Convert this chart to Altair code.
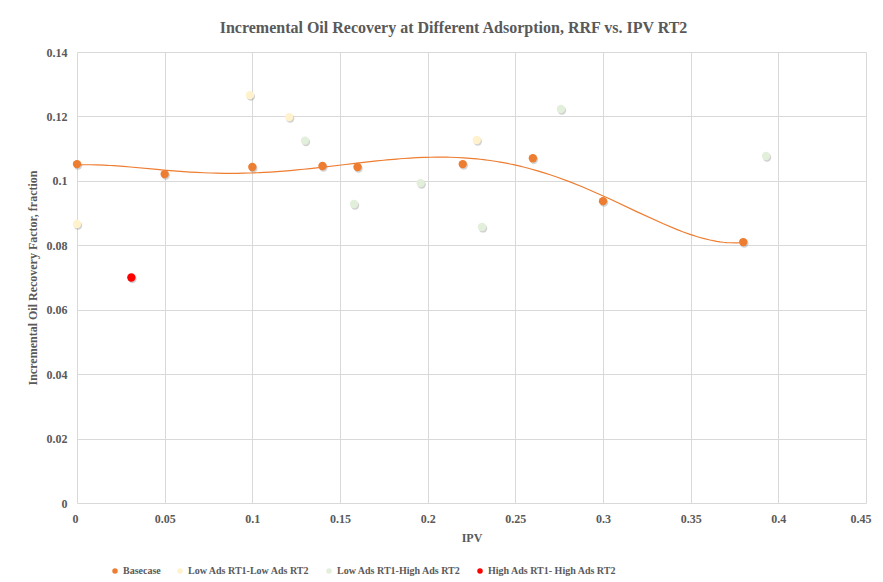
import altair as alt
import pandas as pd

series_names = ["Basecase", "Low Ads RT1-Low Ads RT2", "Low Ads RT1-High Ads RT2", "High Ads RT1- High Ads RT2"]
series_colors = ["#ED7D31", "#FFF2CC", "#E2EFDA", "#FF0000"]

base_ipv = [0.0, 0.05, 0.10, 0.14, 0.16, 0.22, 0.26, 0.30, 0.38]
base_rf = [0.1052, 0.1021, 0.1043, 0.1046, 0.1043, 0.1052, 0.1070, 0.0937, 0.0810]

lowlow_ipv = [0.0, 0.0986, 0.121, 0.228]
lowlow_rf = [0.0866, 0.1266, 0.1198, 0.1127]

lowhigh_ipv = [0.130, 0.158, 0.196, 0.231, 0.276, 0.393]
lowhigh_rf = [0.1125, 0.0928, 0.0993, 0.0857, 0.1223, 0.1077]

high_ipv = [0.031]
high_rf = [0.0700]

rows = []
for name, xs, ys in [
    (series_names[0], base_ipv, base_rf),
    (series_names[1], lowlow_ipv, lowlow_rf),
    (series_names[2], lowhigh_ipv, lowhigh_rf),
    (series_names[3], high_ipv, high_rf),
]:
    for x, y in zip(xs, ys):
        rows.append({"series": name, "IPV": x, "RF": y})
df = pd.DataFrame(rows)

FONT = "Liberation Serif"
GRAY = "#595959"

x_scale = alt.Scale(domain=[0, 0.45], nice=False, zero=True)
y_scale = alt.Scale(domain=[0, 0.14], nice=False)

x_enc = alt.X("IPV:Q", scale=x_scale, title="IPV",
              axis=alt.Axis(values=[0, 0.05, 0.1, 0.15, 0.2, 0.25, 0.3, 0.35, 0.4, 0.45],
                            format="~g", labelFlush=True, labelFlushOffset=5))
y_enc = alt.Y("RF:Q", scale=y_scale, title="Incremental Oil Recovery Factor, fraction",
              axis=alt.Axis(values=[0, 0.02, 0.04, 0.06, 0.08, 0.1, 0.12, 0.14], format="~g"))

shadow = alt.Chart(df).mark_circle(size=70, opacity=0.35, color="#7F7F7F").encode(
    x=x_enc, y=y_enc, xOffset=alt.value(1), yOffset=alt.value(1.5)
)

points = alt.Chart(df).mark_circle(size=70, opacity=1).encode(
    x=x_enc,
    y=y_enc,
    color=alt.Color("series:N", scale=alt.Scale(domain=series_names, range=series_colors),
                    legend=alt.Legend(title=None, orient="none", direction="horizontal",
                                      legendX=33, legendY=514, columnPadding=14,
                                      symbolSize=30, symbolType="circle", labelOffset=3)),
)

trend = alt.Chart(df).transform_filter(
    alt.datum.series == series_names[0]
).transform_regression("IPV", "RF", method="poly", order=5).mark_line(
    color="#ED7D31", strokeWidth=1.2
).encode(x=alt.X("IPV:Q", scale=x_scale), y=alt.Y("RF:Q", scale=y_scale))

chart = alt.layer(shadow, trend, points).properties(
    width=789, height=451,
    autosize=alt.AutoSizeParams(type="none"),
    padding={"left": 69, "top": 44, "right": 9, "bottom": 76},
    title=alt.TitleParams("Incremental Oil Recovery at Different Adsorption, RRF vs. IPV RT2",
                          font=FONT, fontSize=16, fontWeight="bold", color=GRAY, offset=10, dx=-18),
).configure_axis(
    labelFont=FONT, labelFontSize=12, labelFontWeight="bold", labelColor=GRAY,
    titleFont=FONT, titleFontSize=12, titleFontWeight="bold", titleColor=GRAY,
    gridColor="#D9D9D9", gridWidth=1, domain=False, ticks=False,
).configure_axisX(labelPadding=10, titlePadding=8).configure_axisY(
    labelPadding=10, titlePadding=7
).configure_legend(
    labelFont=FONT, labelFontSize=10, labelFontWeight="bold", labelColor=GRAY,
).configure_view(stroke=None)

chart.save("out.html", embed_options={"renderer": "svg", "actions": False})
